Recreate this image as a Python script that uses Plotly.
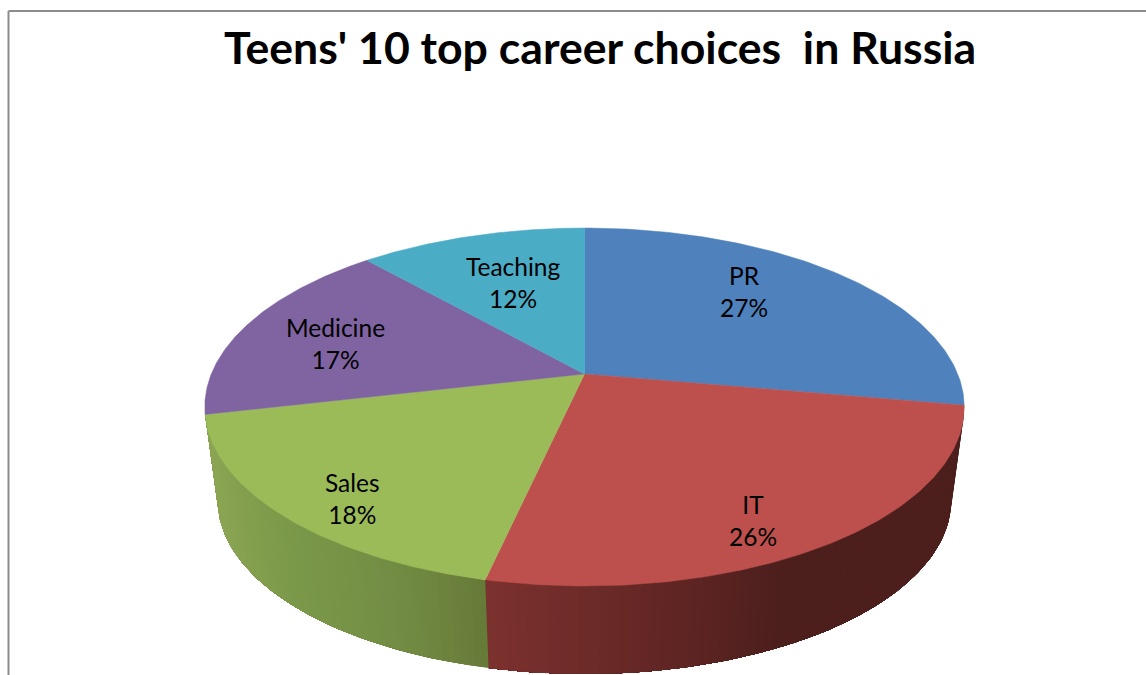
import math
import plotly.graph_objects as go

# ---- data ----
categories = ["PR", "IT", "Sales", "Medicine", "Teaching"]
shares = [27.8, 25.7, 17.9, 17.05, 11.55]          # angular share of each slice
percent_labels = ["27%", "26%", "18%", "17%", "12%"]
top_colors = ["#4f81bd", "#bd504d", "#9bbb59", "#8064a2", "#4bacc6"]
title_text = "Teens' 10 top career choices  in Russia"

# ---- layout / style ----
W, H = 1146, 675
CX = 584.5
TOP_CY, TOP_RX, TOP_RY = 374, 373.2, 172.9
BOT_CY, BOT_RX, BOT_RY = 468, 360.5, 168
K = 0.1844
label_xy = {"PR": (744, 291), "IT": (753, 520), "Sales": (352, 498),
            "Medicine": (335, 343), "Teaching": (513, 282)}
FONT = "Lato, Carlito, Calibri, sans-serif"
wall_stops = {
    "IT": [(0.0, (124, 49, 46)), (0.45, (92, 36, 34)), (0.62, (76, 31, 29)), (1.0, (76, 31, 29))],
    "Sales": [(0.0, (103, 122, 57)), (0.35, (115, 142, 68)), (0.75, (124, 154, 74)), (1.0, (140, 166, 84))],
}


def project(theta, cy, rx, ry):
    """Clockwise angle from 12 o'clock, perspective projected to the page."""
    u, v = math.sin(theta), -math.cos(theta)
    w = 1 - K * v
    return CX + rx * u / w, cy + ry * v / w


def lerp(stops, t):
    for (t0, c0), (t1, c1) in zip(stops, stops[1:]):
        if t <= t1:
            f = (t - t0) / (t1 - t0) if t1 > t0 else 0
            return "rgb(%d,%d,%d)" % tuple(round(a + (b - a) * f) for a, b in zip(c0, c1))
    return "rgb(%d,%d,%d)" % stops[-1][1]


total = sum(shares)
edges = [0.0]
for s in shares:
    edges.append(edges[-1] + s / total * 2 * math.pi)

fig = go.Figure()

# side walls: each band reaches to the slice's far end and the next band paints
# over it, so no seams appear between neighbouring bands
for i, name in enumerate(categories):
    if name not in wall_stops:
        continue
    a0, a1 = edges[i], edges[i + 1]
    n = 70
    x_left = project(a1, BOT_CY, BOT_RX, BOT_RY)[0]
    x_right = project(a0, BOT_CY, BOT_RX, BOT_RY)[0]
    for j in range(n):
        angles = [a0 + (a1 - a0) * k / n for k in range(j, n + 1)]
        upper = [project(t, TOP_CY, TOP_RX, TOP_RY) for t in angles]
        lower = [project(t, BOT_CY, BOT_RX, BOT_RY) for t in reversed(angles)]
        ring = upper + lower + upper[:1]
        mid = a0 + (a1 - a0) * (j + 0.5) / n
        xm = project(mid, BOT_CY, BOT_RX, BOT_RY)[0]
        tc = (xm - x_left) / (x_right - x_left)
        if name == "Sales":
            tc = 1 - tc
        col = lerp(wall_stops[name], min(max(tc, 0), 1))
        fig.add_trace(go.Scatter(x=[q[0] for q in ring], y=[q[1] for q in ring], mode="lines",
                                 fill="toself", fillcolor=col, line=dict(width=0),
                                 hoverinfo="skip", showlegend=False))

# top face
for i, name in enumerate(categories):
    a0, a1 = edges[i], edges[i + 1]
    n = 120
    pts = [project(a0 + (a1 - a0) * j / n, TOP_CY, TOP_RX, TOP_RY) for j in range(n + 1)]
    xs = [CX] + [q[0] for q in pts] + [CX]
    ys = [TOP_CY] + [q[1] for q in pts] + [TOP_CY]
    fig.add_trace(go.Scatter(x=xs, y=ys, mode="lines", fill="toself", fillcolor=top_colors[i],
                             line=dict(color=top_colors[i], width=0.5), name=name,
                             hoverinfo="name", showlegend=False))

annotations = [dict(x=label_xy[c][0], y=label_xy[c][1], xref="x", yref="y",
                    text=f"{c}<br>{p}", showarrow=False, align="center",
                    font=dict(family=FONT, size=24.5, color="#000000"))
               for c, p in zip(categories, percent_labels)]
annotations.append(dict(x=599.5, y=46, xref="x", yref="y", text=f"<b>{title_text}</b>",
                        showarrow=False, font=dict(family=FONT, size=44.6, color="#000000")))

fig.update_layout(
    width=W, height=H, margin=dict(l=0, r=0, t=0, b=0),
    paper_bgcolor="#ffffff", plot_bgcolor="#ffffff", showlegend=False,
    xaxis=dict(range=[0, W], visible=False, fixedrange=True),
    yaxis=dict(range=[H, 0], visible=False, fixedrange=True),
    annotations=annotations,
    shapes=[dict(type="line", xref="x", yref="y", x0=8.5, y0=11, x1=W, y1=11,
                 line=dict(color="#8c8c8c", width=2)),
            dict(type="line", xref="x", yref="y", x0=8.5, y0=11, x1=8.5, y1=H,
                 line=dict(color="#8c8c8c", width=2))],
)

fig.write_html("out.html", config={"displayModeBar": False},
               post_script="document.body.style.margin='0';document.body.style.overflow='hidden';")
